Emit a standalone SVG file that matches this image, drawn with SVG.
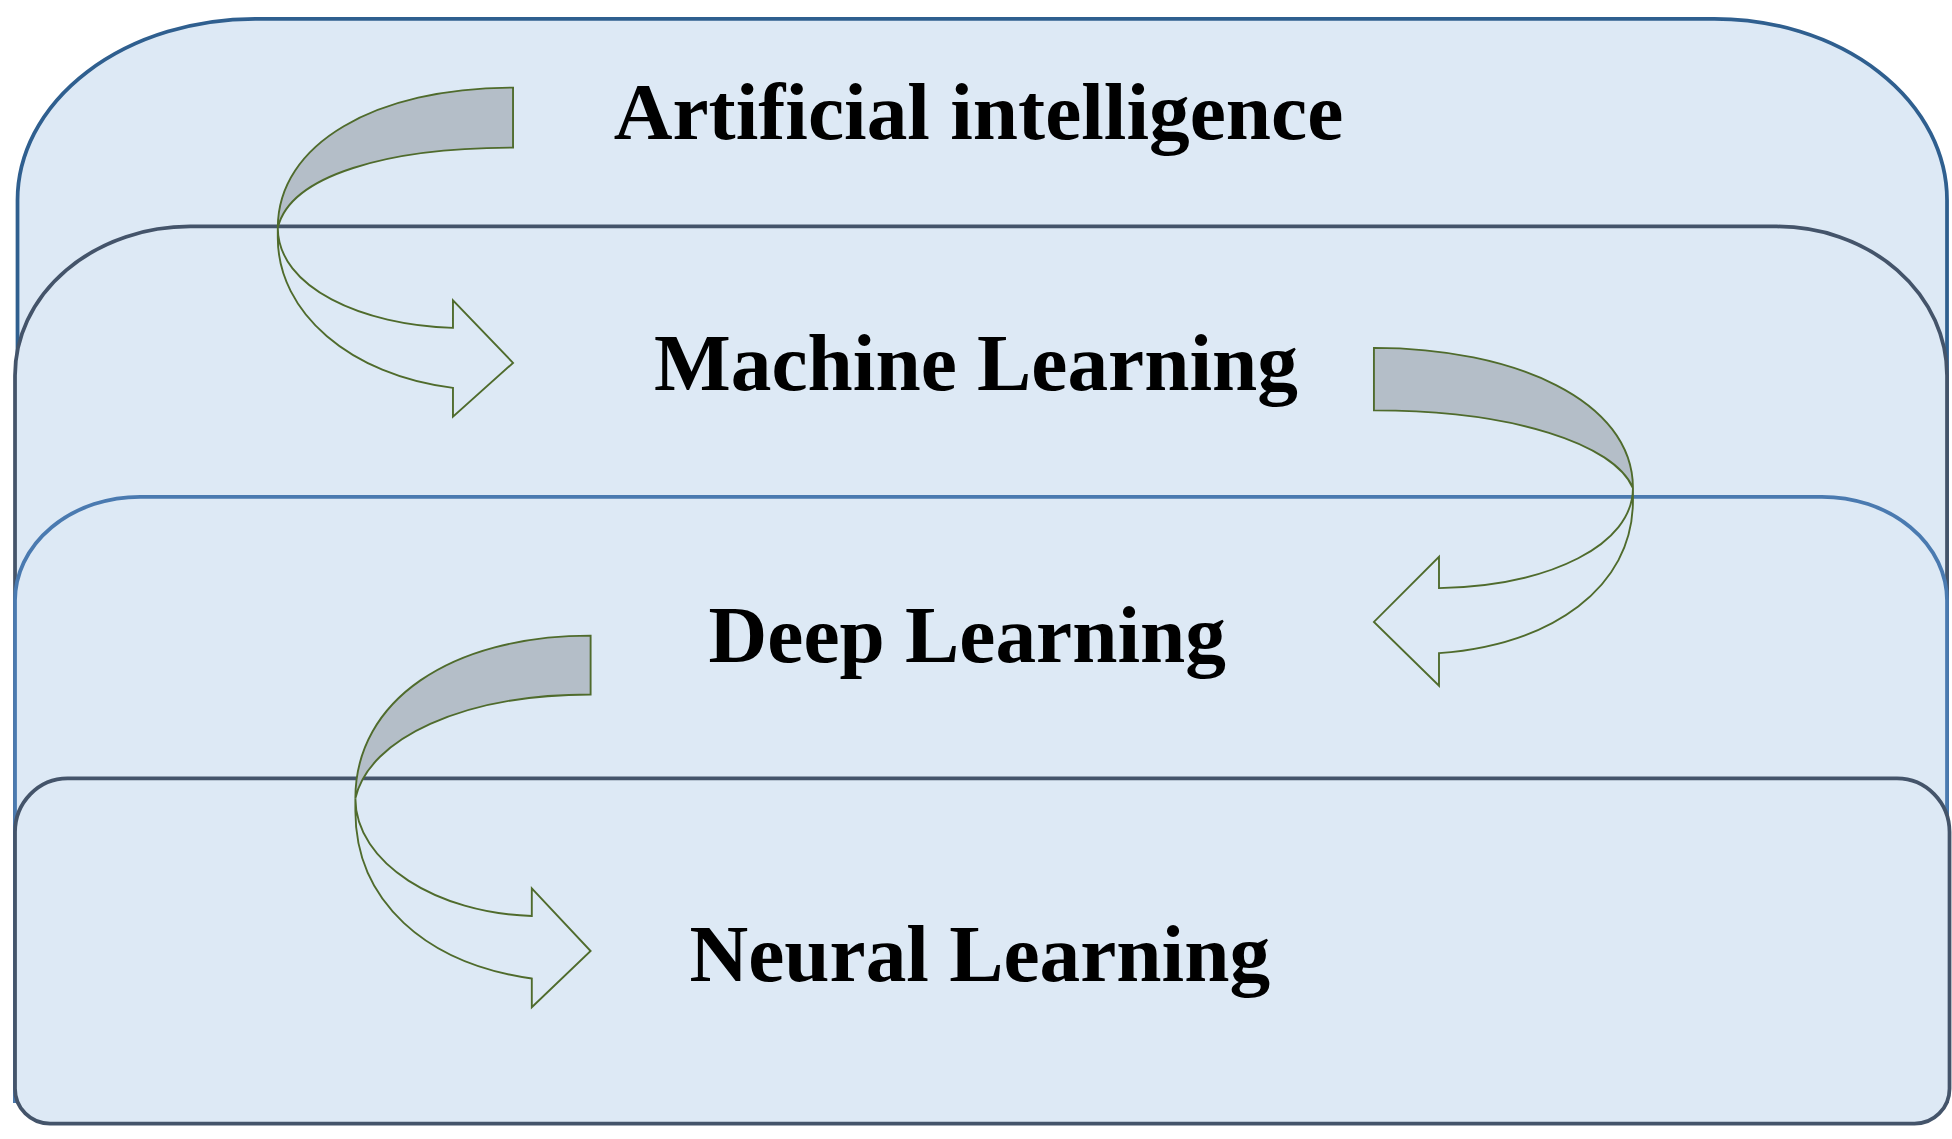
<svg xmlns="http://www.w3.org/2000/svg" width="1952" height="1139" viewBox="0 0 1952 1139">
<style>
.box{fill:#dde9f5;stroke-width:3}
.t{font-family:"Liberation Serif","Times New Roman",serif;font-weight:bold;font-size:65px;fill:#000;text-anchor:middle}
.band{fill:#b4bec8;stroke:#4f6b2c;stroke-width:1.5}
.arr{fill:none;stroke:#4f6b2c;stroke-width:1.5}
</style>
<rect width="1952" height="1139" fill="#fff"/>
<g transform="scale(1.2513)">
<g id="ai"><path class="box" stroke="#2f5f8f" d="M14,880 L14,160 A190,145 0 0 1 204,15 L1370,15 A186,145 0 0 1 1556,160 L1556,880 Z"/>
<text class="t" x="782" y="111">Artificial intelligence</text></g>
<g id="ml"><path class="box" stroke="#44546a" d="M12,880 L12,300 A140,119 0 0 1 152,181 L1420,181 A136,119 0 0 1 1556,300 L1556,880 Z"/>
<text class="t" x="780" y="312">Machine Learning</text></g>
<g id="dl"><path class="box" stroke="#4a7ab0" d="M12,880 L12,480 A100,83 0 0 1 112,397 L1456,397 A100,83 0 0 1 1556,480 L1556,880 Z"/>
<text class="t" x="773" y="529">Deep Learning</text></g>
<g id="nl"><path class="box" stroke="#44546a" d="M12,665 A42,43 0 0 1 54,622 L1516,622 A42,43 0 0 1 1558,665 L1558,870 A28,28 0 0 1 1530,898 L40,898 A28,28 0 0 1 12,870 Z"/>
<text class="t" x="783" y="784">Neural Learning</text></g>
<g id="connectors">
<path class="band" d="M410,70 C300,70 222,115 222,182 C232,140 310,118 410,118 Z"/>
<path class="arr" d="M222,182 C222,230 290,260 362,262 L362,240 L410,290 L362,333 L362,310 C280,300 222,250 222,190 Z"/>
<path class="band" d="M1098,278 C1210,278 1305,320 1305,390 C1290,355 1210,328 1098,328 Z"/>
<path class="arr" d="M1305,390 C1305,435 1240,468 1150,470 L1150,445 L1098,497 L1150,548 L1150,522 C1240,515 1305,470 1305,400 Z"/>
<path class="band" d="M472,508 C360,508 284,560 284,638 C295,590 370,555 472,555 Z"/>
<path class="arr" d="M284,638 C284,690 350,730 425,732 L425,710 L472,760 L425,805 L425,782 C340,770 284,720 284,648 Z"/>
</g>
</g>
</svg>
